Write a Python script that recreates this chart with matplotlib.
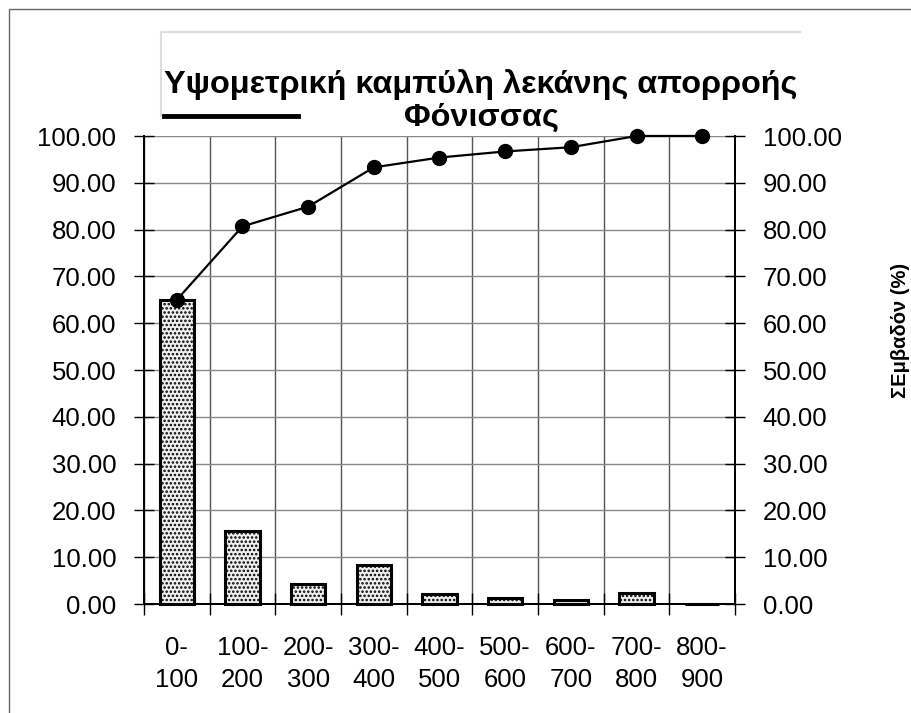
import matplotlib.pyplot as plt
import numpy as np
from matplotlib.lines import Line2D

# elevation classes (m) and share of basin area per class (%)
classes = ['0-\n100', '100-\n200', '200-\n300', '300-\n400', '400-\n500',
           '500-\n600', '600-\n700', '700-\n800', '800-\n900']
area_pct = [65.0, 15.7, 4.2, 8.4, 2.1, 1.3, 0.9, 2.4, 0.1]
yticks = [0, 10, 20, 30, 40, 50, 60, 70, 80, 90, 100]

title_lines = ['Υψομετρική καμπύλη λεκάνης απορροής', 'Φόνισσας']
right_label = 'ΣΕμβαδόν (%)'

plt.rcParams['font.family'] = ['Liberation Sans', 'DejaVu Sans']
plt.rcParams['hatch.color'] = '#555555'
plt.rcParams['hatch.linewidth'] = 1.2
FS = 18.5

cum_pct = np.minimum(np.cumsum(area_pct), 100)
x = np.arange(len(classes))

fig = plt.figure(figsize=(9.12, 7.13), dpi=100)
ax = fig.add_axes([144 / 912, 1 - 604 / 713, (735 - 144) / 912, (604 - 136) / 713])
ax2 = ax.twinx()

ax.bar(x, area_pct, width=0.52, facecolor='#efefef', edgecolor='black',
       linewidth=2.2, hatch='....', zorder=3, clip_on=False)
ax2.plot(x, cum_pct, color='black', lw=1.6, marker='o', markersize=10,
         clip_on=False, zorder=4)

for a in (ax, ax2):
    a.set_xlim(-0.5, len(classes) - 0.5)
    a.set_ylim(0, 100)
    a.set_yticks(yticks)
    a.set_yticklabels([f'{v:.2f}' for v in yticks], fontsize=FS)

ax.tick_params(axis='y', direction='inout', length=14, width=1, pad=13)
ax2.tick_params(axis='y', direction='inout', length=14, width=1, pad=13)

# category boundaries carry the ticks and vertical grid, labels sit at centres
ax.set_xticks(np.arange(-0.5, len(classes) + 0.5, 1))
ax.set_xticklabels([])
ax.set_xticks(x, minor=True)
ax.set_xticklabels(classes, minor=True, fontsize=FS, linespacing=1.45)
ax.tick_params(axis='x', which='major', direction='inout', length=16, width=1)
ax.tick_params(axis='x', which='minor', length=0, pad=23)

ax.grid(True, axis='y', color='#888888', lw=1, zorder=0)
ax.grid(True, axis='x', color='#555555', lw=1, zorder=0)
ax.set_axisbelow(True)

for a in (ax, ax2):
    a.spines['top'].set_visible(False)
    a.spines['left'].set_linewidth(1.4)
    a.spines['right'].set_linewidth(1.4)
    a.spines['bottom'].set_linewidth(1.4)

# two-line title, one text per line
for text, yc in zip(title_lines, [85, 118]):
    fig.text(481 / 912, 1 - yc / 713, text, ha='center', va='center',
             fontsize=23.4, fontweight='bold')
fig.text(901 / 912, 1 - 330 / 713, right_label, rotation=90, ha='center',
         va='center', fontsize=14.5, fontweight='bold')

# outer chart border and title frame
fig.add_artist(Line2D([9 / 912, 9 / 912, 1], [0, 1 - 9 / 713, 1 - 9 / 713],
                      transform=fig.transFigure, color='#666666', lw=1))
fig.add_artist(Line2D([161 / 912, 161 / 912, 800 / 912],
                      [1 - 116 / 713, 1 - 32 / 713, 1 - 32 / 713],
                      transform=fig.transFigure, color='#dddddd', lw=1.5))
fig.add_artist(Line2D([164 / 912, 298 / 912], [1 - 116 / 713, 1 - 116 / 713],
                      transform=fig.transFigure, color='black', lw=3.5))

fig.savefig('out.png', dpi=100, facecolor='white')
